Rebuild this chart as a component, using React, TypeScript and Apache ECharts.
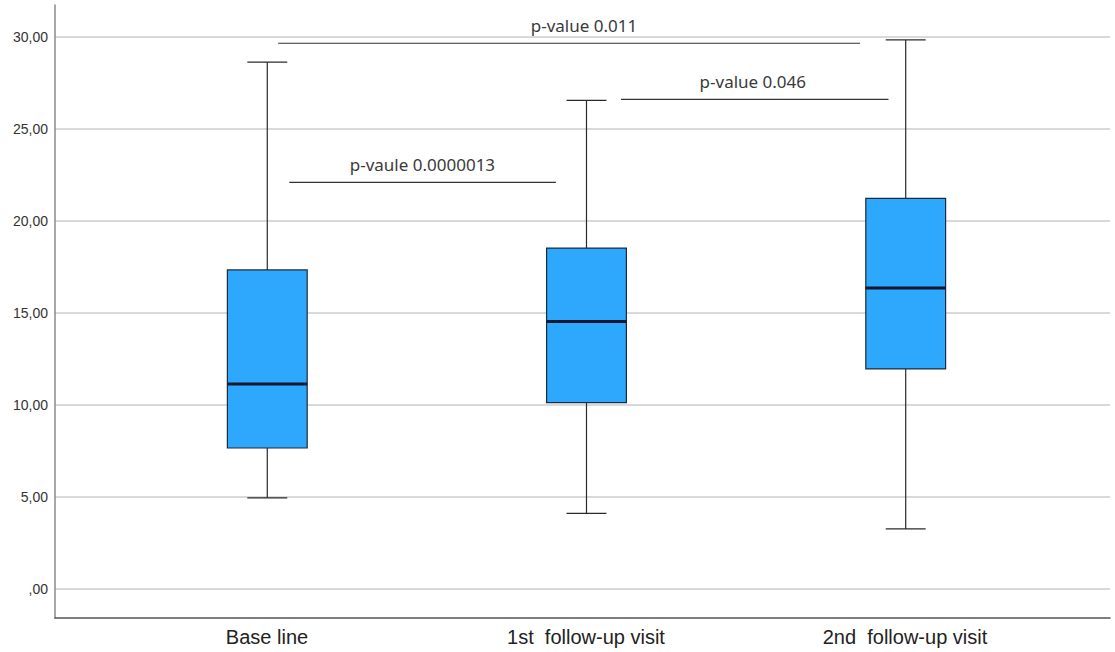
import React, { useEffect, useRef } from 'react';
import * as echarts from 'echarts';

// ---- data ----
const categories = ['Base line', '1st  follow-up visit', '2nd  follow-up visit'];
const whiskerLow = [4.95, 4.11, 3.26];
const quartile1 = [7.66, 10.13, 11.96];
const medians = [11.14, 14.53, 16.36];
const quartile3 = [17.34, 18.53, 21.23];
const whiskerHigh = [28.64, 26.56, 29.84];

const yTickValues = [0, 5, 10, 15, 20, 25, 30];
const yTickLabels = [',00', '5,00', '10,00', '15,00', '20,00', '25,00', '30,00'];

const annotationLabels = ['p-value 0.011', 'p-value 0.046', 'p-vaule 0.0000013'];
const annotationStart = [0.034, 1.108, 0.069];
const annotationEnd = [1.857, 1.946, 0.904];
const annotationLevel = [29.66, 26.61, 22.1];
const annotationTextPos = [0.992, 1.521, 0.486];

// ---- axis ranges ----
const Y_MIN = -1.58;
const Y_MAX = 31.74;
const X_MIN = -0.665;
const X_MAX = 2.64;

export default function App() {
  const ref = useRef<HTMLDivElement>(null);

  useEffect(() => {
    if (!ref.current) return;
    const chart = echarts.init(ref.current, undefined, { renderer: 'svg' });

    const boxData = categories.map((_, i) => [
      i,
      whiskerLow[i],
      quartile1[i],
      medians[i],
      quartile3[i],
      whiskerHigh[i],
    ]);
    const annData = annotationLabels.map((_, i) => [
      annotationStart[i],
      annotationEnd[i],
      annotationLevel[i],
      annotationTextPos[i],
    ]);

    const option: any = {
      animation: false,
      backgroundColor: '#ffffff',
      grid: [
        { left: 55, right: 5, top: 5, bottom: 34 },
        { left: 55, right: 5, top: 37, bottom: 63 },
        { left: 107.5, width: 957, top: 5, bottom: 34 },
      ],
      xAxis: [
        {
          gridIndex: 0,
          type: 'value',
          min: X_MIN,
          max: X_MAX,
          axisLine: { show: true, onZero: false, lineStyle: { color: '#555555', width: 1.5 } },
          axisTick: { show: false },
          axisLabel: { show: false },
          splitLine: { show: false },
        },
        { gridIndex: 1, type: 'value', show: false, min: 0, max: 1 },
        {
          gridIndex: 2,
          type: 'category',
          data: categories,
          boundaryGap: true,
          axisLine: { show: false },
          axisTick: { show: false },
          axisLabel: {
            show: true,
            margin: 9,
            fontSize: 20,
            color: '#222222',
            fontFamily: '"Liberation Sans", Arial, sans-serif',
          },
        },
      ],
      yAxis: [
        {
          gridIndex: 0,
          type: 'value',
          min: Y_MIN,
          max: Y_MAX,
          axisLine: { show: true, onZero: false, lineStyle: { color: '#8a8a8a', width: 1.5 } },
          axisTick: { show: false },
          axisLabel: { show: false },
          splitLine: { show: false },
        },
        {
          gridIndex: 1,
          type: 'value',
          min: 0,
          max: 30,
          interval: 5,
          axisLine: { show: false },
          axisTick: { show: false },
          axisLabel: {
            show: true,
            margin: 7,
            fontSize: 14,
            color: '#333333',
            fontFamily: '"Liberation Sans", Arial, sans-serif',
            formatter: (v: number) => {
              const idx = yTickValues.indexOf(Math.round(v * 100) / 100);
              return idx >= 0 ? yTickLabels[idx] : '';
            },
          },
          splitLine: { show: true, lineStyle: { color: '#cccccc', width: 1.5 } },
        },
        { gridIndex: 2, type: 'value', show: false, min: 0, max: 1 },
      ],
      series: [
        {
          type: 'custom',
          name: 'boxes',
          xAxisIndex: 0,
          yAxisIndex: 0,
          data: boxData,
          encode: { x: 0, y: [1, 2, 3, 4, 5] },
          z: 3,
          renderItem: (params: any, api: any) => {
            const x = api.value(0);
            const pLow = api.coord([x, api.value(1)]);
            const pQ1 = api.coord([x, api.value(2)]);
            const pMed = api.coord([x, api.value(3)]);
            const pQ3 = api.coord([x, api.value(4)]);
            const pHigh = api.coord([x, api.value(5)]);
            const w = api.size([0.25, 0])[0];
            const cx = pMed[0];
            const capHalf = w / 4;
            const whiskerStyle = { stroke: '#2a2a2a', lineWidth: 1.2 };
            return {
              type: 'group',
              children: [
                { type: 'line', shape: { x1: cx, y1: pHigh[1], x2: cx, y2: pQ3[1] }, style: whiskerStyle },
                { type: 'line', shape: { x1: cx, y1: pQ1[1], x2: cx, y2: pLow[1] }, style: whiskerStyle },
                { type: 'line', shape: { x1: cx - capHalf, y1: pHigh[1], x2: cx + capHalf, y2: pHigh[1] }, style: whiskerStyle },
                { type: 'line', shape: { x1: cx - capHalf, y1: pLow[1], x2: cx + capHalf, y2: pLow[1] }, style: whiskerStyle },
                {
                  type: 'rect',
                  shape: { x: cx - w / 2, y: pQ3[1], width: w, height: pQ1[1] - pQ3[1] },
                  style: { fill: '#2ea8fc', stroke: '#1c2b3b', lineWidth: 1.2 },
                },
                {
                  type: 'line',
                  shape: { x1: cx - w / 2, y1: pMed[1], x2: cx + w / 2, y2: pMed[1] },
                  style: { stroke: '#0b1830', lineWidth: 3 },
                },
              ],
            };
          },
        },
        {
          type: 'custom',
          name: 'annotations',
          xAxisIndex: 0,
          yAxisIndex: 0,
          data: annData,
          encode: { x: [0, 1, 3], y: 2 },
          z: 4,
          renderItem: (params: any, api: any) => {
            const y = api.value(2);
            const p1 = api.coord([api.value(0), y]);
            const p2 = api.coord([api.value(1), y]);
            const pt = api.coord([api.value(3), y]);
            return {
              type: 'group',
              children: [
                {
                  type: 'line',
                  shape: { x1: p1[0], y1: p1[1], x2: p2[0], y2: p2[1] },
                  style: { stroke: '#333333', lineWidth: 1.2 },
                },
                {
                  type: 'text',
                  x: pt[0],
                  y: pt[1] - 18,
                  style: {
                    text: annotationLabels[params.dataIndex],
                    fill: '#3a3a3a',
                    fontSize: 17,
                    fontFamily: '"Noto Sans", "Open Sans", sans-serif',
                    align: 'center',
                    verticalAlign: 'middle',
                  },
                },
              ],
            };
          },
        },
      ],
    };

    chart.setOption(option);
    return () => chart.dispose();
  }, []);

  return (
    <div
      ref={ref}
      style={{ position: 'fixed', left: 0, top: 0, width: 1115, height: 652, background: '#ffffff' }}
    />
  );
}
